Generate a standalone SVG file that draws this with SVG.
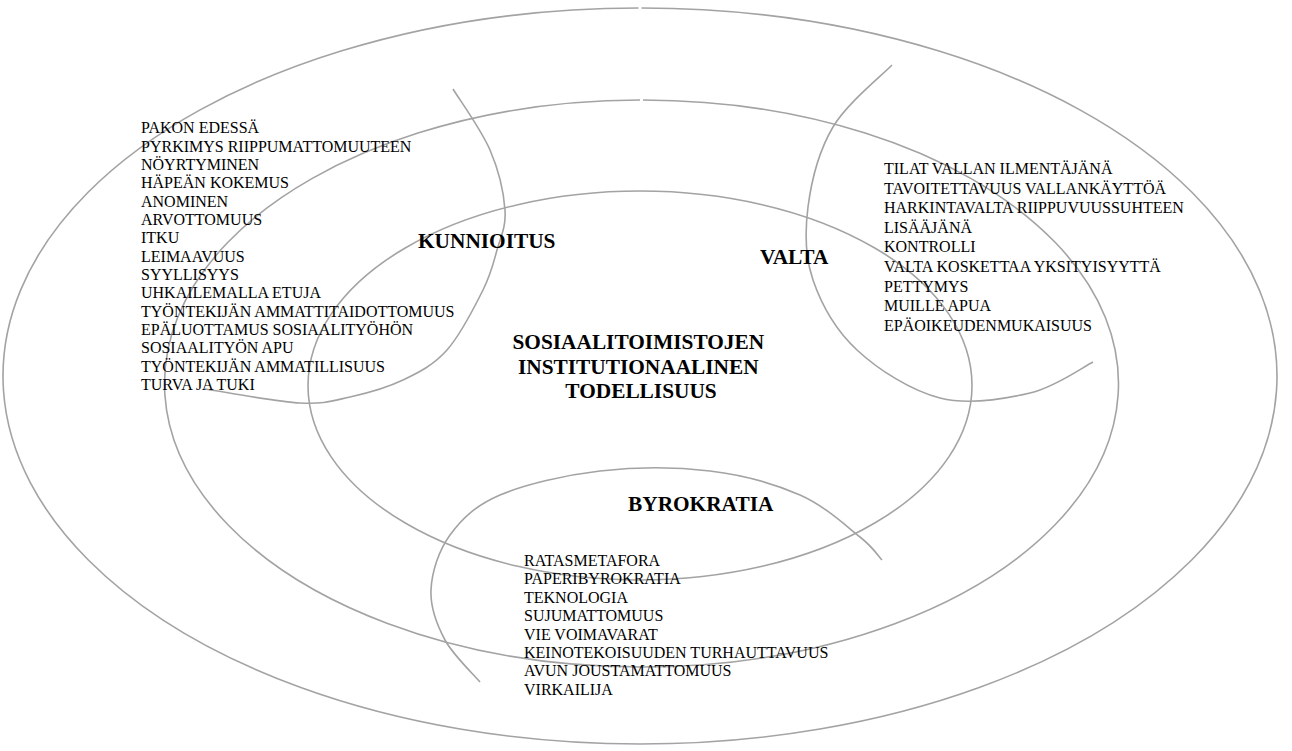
<svg xmlns="http://www.w3.org/2000/svg" width="1292" height="751" viewBox="0 0 1292 751">
<style>
.ring{fill:none;stroke:#a3a3a3;stroke-width:1.6}
.item{font-family:"Liberation Serif","Times New Roman",serif;font-size:16px;fill:#000}
.head{font-family:"Liberation Serif","Times New Roman",serif;font-size:21.33px;font-weight:bold;fill:#000}
</style>
<rect width="1292" height="751" fill="#fff"/>
<g id="rings">
<path class="ring" d="M641.5,8 A637,368 0 1,1 638.5,8"/>
<path class="ring" d="M643,100 A477,283.5 0 1,1 640,100"/>
<ellipse class="ring" cx="640" cy="385.5" rx="332" ry="194.5"/>
</g>
<g id="kunnioitus">
<path class="ring" d="M453,89 C459.2,99.2 481.3,129.8 490,150 C498.7,170.2 503.8,193.3 505,210 C506.2,226.7 500.7,236.7 497,250 C493.3,263.3 491.3,273.3 483,290 C474.7,306.7 460.3,335 447,350 C433.7,365 419.2,372.2 403,380 C386.8,387.8 367.2,393.2 350,397 C332.8,400.8 324.2,404.3 300,403 C275.8,401.7 220.8,391.3 205,389"/>
<text class="head" x="418" y="248">KUNNIOITUS</text>
<text class="item">
<tspan x="141" y="133.3">PAKON EDESSÄ</tspan>
<tspan x="141" y="151.6">PYRKIMYS RIIPPUMATTOMUUTEEN</tspan>
<tspan x="141" y="170">NÖYRTYMINEN</tspan>
<tspan x="141" y="188.3">HÄPEÄN KOKEMUS</tspan>
<tspan x="141" y="206.6">ANOMINEN</tspan>
<tspan x="141" y="225">ARVOTTOMUUS</tspan>
<tspan x="141" y="243.3">ITKU</tspan>
<tspan x="141" y="261.6">LEIMAAVUUS</tspan>
<tspan x="141" y="280">SYYLLISYYS</tspan>
<tspan x="141" y="298.3">UHKAILEMALLA ETUJA</tspan>
<tspan x="141" y="316.6">TYÖNTEKIJÄN AMMATTITAIDOTTOMUUS</tspan>
<tspan x="141" y="335">EPÄLUOTTAMUS SOSIAALITYÖHÖN</tspan>
<tspan x="141" y="353.3">SOSIAALITYÖN APU</tspan>
<tspan x="141" y="371.6">TYÖNTEKIJÄN AMMATILLISUUS</tspan>
<tspan x="141" y="390">TURVA JA TUKI</tspan>
</text>
</g>
<g id="valta">
<path class="ring" d="M892,65 C882.2,75.3 847,103.3 833,127 C819,150.7 811.3,181.5 808,207 C804.7,232.5 804.8,256.2 813,280 C821.2,303.8 835.8,330.3 857,350 C878.2,369.7 911.2,390.8 940,398 C968.8,405.2 1004.5,399 1030,393 C1055.5,387 1082.5,367.2 1093,362"/>
<text class="head" x="760" y="264">VALTA</text>
<text class="item">
<tspan x="884" y="174">TILAT VALLAN ILMENTÄJÄNÄ</tspan>
<tspan x="884" y="193.6">TAVOITETTAVUUS VALLANKÄYTTÖÄ</tspan>
<tspan x="884" y="213.2">HARKINTAVALTA RIIPPUVUUSSUHTEEN</tspan>
<tspan x="884" y="232.8">LISÄÄJÄNÄ</tspan>
<tspan x="884" y="252.4">KONTROLLI</tspan>
<tspan x="884" y="272">VALTA KOSKETTAA YKSITYISYYTTÄ</tspan>
<tspan x="884" y="291.6">PETTYMYS</tspan>
<tspan x="884" y="311.2">MUILLE APUA</tspan>
<tspan x="884" y="330.8">EPÄOIKEUDENMUKAISUUS</tspan>
</text>
</g>
<g id="byrokratia">
<path class="ring" d="M480,682 C474.2,675 453.2,655.3 445,640 C436.8,624.7 430.2,607.5 431,590 C431.8,572.5 438.5,550.8 450,535 C461.5,519.2 475,505.7 500,495 C525,484.3 565,475 600,471 C635,467 676.7,467 710,471 C743.3,475 775,484 800,495 C825,506 846.3,526.2 860,537 C873.7,547.8 878.3,556.2 882,560"/>
<text class="head" x="628" y="511">BYROKRATIA</text>
<text class="item">
<tspan x="524" y="566">RATASMETAFORA</tspan>
<tspan x="524" y="584.4">PAPERIBYROKRATIA</tspan>
<tspan x="524" y="602.8">TEKNOLOGIA</tspan>
<tspan x="524" y="621.2">SUJUMATTOMUUS</tspan>
<tspan x="524" y="639.6">VIE VOIMAVARAT</tspan>
<tspan x="524" y="658">KEINOTEKOISUUDEN TURHAUTTAVUUS</tspan>
<tspan x="524" y="676.4">AVUN JOUSTAMATTOMUUS</tspan>
<tspan x="524" y="694.8">VIRKAILIJA</tspan>
</text>
</g>
<g id="center">
<text class="head" text-anchor="middle">
<tspan x="641" y="349">SOSIAALITOIMISTOJEN</tspan>
<tspan x="641" y="373.5">INSTITUTIONAALINEN</tspan>
<tspan x="641" y="398">TODELLISUUS</tspan>
</text>
</g>
<g id="connectors"></g>
</svg>
